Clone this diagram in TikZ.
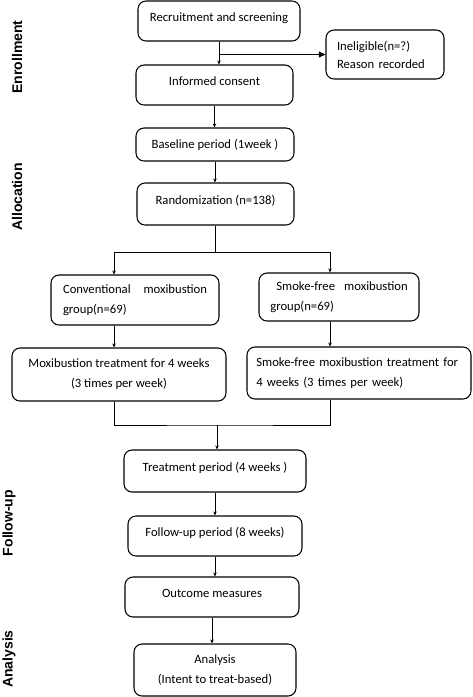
\documentclass[tikz,border=0pt]{standalone}
\usepackage{fontspec}
\setmainfont{Carlito}
\newfontfamily\phasefont{Liberation Sans}
\usetikzlibrary{arrows.meta}
\begin{document}
\begin{tikzpicture}[x=0.75pt,y=0.75pt,yscale=-1,xscale=1,
  box/.style={draw, line width=0.8pt, rounded corners=6pt, inner xsep=3pt, inner ysep=0pt, align=center, font=\fontsize{9.5pt}{15pt}\selectfont},
  upbox/.style={box, text height=7pt, text depth=7pt},
  phase/.style={rotate=90, inner sep=0pt, font=\phasefont\bfseries\fontsize{10.5pt}{12pt}\selectfont},
  link/.style={line width=0.6pt},
  arr/.style={link, -{Stealth[length=3pt,width=2.6pt]}}]
\useasboundingbox (0,0) rectangle (472,697);

% Phase labels
\node[phase] (enroll) at (17,57) {Enrollment};
\node[phase] (alloc) at (17,197) {Allocation};
\node[phase] (followup) at (9,523) {Follow-up};
\node[phase] (analyse) at (9,659) {Analysis};

% Enrollment and allocation
\node[upbox, minimum width=121.5pt, minimum height=30pt] (recruit) at (219,21) {Recruitment and screening};
\node[box, align=left, text width=72pt, inner xsep=8.25pt, minimum height=36.75pt, font=\fontsize{9.5pt}{13.5pt}\selectfont] (inelig) at (385,54.5) {Ineligible(n=?)\\Reason recorded};
\node[upbox, minimum width=117.75pt, minimum height=30pt] (consent) at (214.5,85) {Informed consent};
\node[box, minimum width=118.5pt, minimum height=24.75pt] (baseline) at (215,144.5) {Baseline period (1week )};
\node[upbox, minimum width=117.75pt, minimum height=31.5pt] (random) at (215.5,204) {Randomization (n=138)};

% Two groups
\node[box, align=left, text width=108pt, inner xsep=9pt, minimum height=37.5pt] (conv) at (135,300) {Conventional\hfill moxibustion\\group(n=69)};
\node[box, align=left, text width=103pt, inner xsep=8.5pt, minimum height=36pt] (smoke) at (339,297) {\hspace*{4.5pt}Smoke-free\hfill moxibustion\\group(n=69)};
\node[box, minimum width=160.5pt, minimum height=39.75pt] (moxi) at (119,374.5) {Moxibustion treatment for 4 weeks\\(3 times per week)};
\node[box, align=left, text width=154pt, inner xsep=7pt, minimum height=39pt] (smtreat) at (359,373) {Smoke-free moxibustion treatment for\\4 weeks (3 times per week)};

% Follow-up and analysis
\node[upbox, minimum width=136.5pt, minimum height=31.5pt] (treat) at (215,471) {Treatment period (4 weeks )};
\node[upbox, minimum width=130.5pt, minimum height=30pt] (follow) at (215,536) {Follow-up period (8 weeks)};
\node[upbox, minimum width=130.5pt, minimum height=30pt] (outcome) at (212,597) {Outcome measures};
\node[box, minimum width=121.5pt, minimum height=39pt] (analysis) at (215,670) {Analysis\\(Intent to treat-based)};

% Connectors
\coordinate (lcol) at (114,252);
\coordinate (rcol) at (330,252);
\coordinate (merge) at (217,425);
\draw[arr] (recruit.south) -- (recruit.south |- consent.north);
\draw[link, -{Triangle[length=5pt,width=4.5pt]}] (recruit.south |- inelig.west) -- (inelig.west);
\draw[arr] (consent.south) -- (consent.south |- baseline.north);
\draw[arr] (baseline.south) -- (baseline.south |- random.north);
\draw[link] (random.south) -- (random.south |- lcol);
\draw[link] (lcol) -- (rcol);
\draw[arr] (lcol) -- (lcol |- conv.north);
\draw[arr] (rcol) -- (rcol |- smoke.north);
\draw[arr] (lcol |- conv.south) -- (lcol |- moxi.north);
\draw[arr] (rcol |- smoke.south) -- (rcol |- smtreat.north);
\draw[link] (lcol |- moxi.south) |- (merge) -| (rcol |- smtreat.south);
\draw[arr] (merge) -- (merge |- treat.north);
\draw[arr] (treat.south) -- (treat.south |- follow.north);
\draw[arr] (follow.south) -- (follow.south |- outcome.north);
\draw[arr] (outcome.south) -- (outcome.south |- analysis.north);

\end{tikzpicture}
\end{document}
